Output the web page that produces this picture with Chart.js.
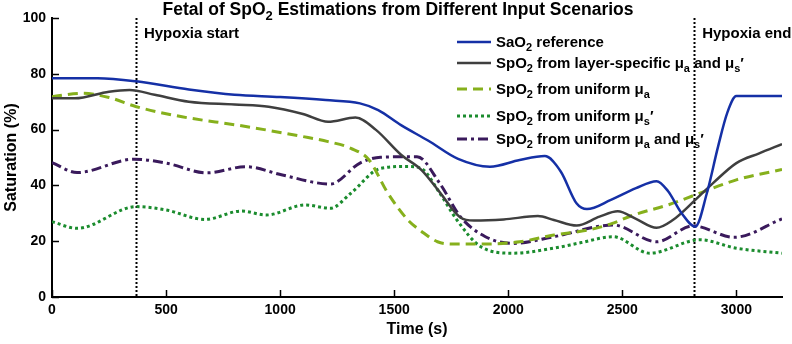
<!DOCTYPE html>
<html>
<head>
<meta charset="utf-8">
<script src="https://cdn.jsdelivr.net/npm/chart.js@4.4.1/dist/chart.umd.min.js"></script>
<style>
  body { margin: 0; background: #fff; }
  #wrap { width: 792px; height: 344px; }
</style>
</head>
<body>
<div id="wrap"><canvas id="spo2Chart" width="792" height="344"></canvas></div>
<script>
// SaO2 reference
const saoTime = [0, 200, 370, 600, 800, 1000, 1200, 1350, 1430, 1530, 1650, 1780, 1920, 2050, 2160, 2230, 2300, 2345, 2450, 2560, 2650, 2700, 2760, 2820, 2870, 2920, 2960, 3000, 3200];
const saoValues = [78.4, 78.4, 77.3, 74.4, 72.5, 71.7, 70.6, 69.4, 67.0, 61.6, 56.0, 49.5, 46.7, 49.1, 50.5, 45.0, 33.5, 31.5, 34.8, 39.0, 41.5, 38.0, 30.0, 25.2, 37.0, 54.0, 66.0, 72.0, 72.0];

// SpO2 from layer-specific mua and mus'
const layerTime = [0, 100, 250, 340, 450, 600, 800, 950, 1100, 1210, 1330, 1420, 1530, 1620, 1700, 1790, 1850, 1980, 2130, 2200, 2300, 2400, 2480, 2560, 2650, 2720, 2820, 2900, 3000, 3100, 3200];
const layerValues = [71.2, 71.2, 73.6, 74.2, 72.5, 70.0, 69.0, 68.2, 65.6, 62.8, 64.3, 59.9, 51.0, 45.5, 37.5, 28.5, 27.4, 27.8, 29.0, 27.6, 25.6, 28.8, 30.7, 28.0, 24.8, 27.5, 34.8, 41.0, 48.0, 51.5, 54.8];

// SpO2 from uniform mua
const muaTime = [0, 130, 250, 370, 570, 820, 1100, 1210, 1310, 1390, 1470, 1560, 1620, 1690, 1760, 1900, 2050, 2200, 2350, 2450, 2550, 2700, 2820, 3000, 3200];
const muaValues = [71.8, 73.0, 71.5, 68.2, 64.6, 61.5, 57.5, 55.7, 53.3, 49.1, 37.5, 27.6, 23.5, 19.8, 19.0, 19.0, 19.8, 22.2, 24.0, 26.2, 29.4, 33.0, 36.6, 42.0, 45.7];

// SpO2 from uniform mus'
const musTime = [0, 110, 370, 500, 670, 830, 940, 1110, 1220, 1310, 1440, 1560, 1620, 1700, 1775, 1880, 2020, 2200, 2320, 2460, 2620, 2840, 3000, 3200];
const musValues = [27.0, 24.6, 32.4, 31.2, 27.8, 30.8, 29.4, 33.0, 31.8, 37.2, 46.1, 46.8, 46.0, 37.2, 27.6, 18.0, 15.7, 17.5, 19.5, 21.6, 15.7, 20.5, 17.5, 15.7];

// SpO2 from uniform mua and mus'
const bothTime = [0, 110, 360, 500, 680, 850, 1010, 1220, 1350, 1440, 1600, 1700, 1790, 1900, 2020, 2200, 2460, 2650, 2810, 2990, 3200];
const bothValues = [48.2, 44.6, 49.4, 48.0, 44.5, 46.7, 43.7, 40.5, 48.0, 50.1, 50.3, 40.7, 28.8, 21.6, 19.2, 21.6, 25.8, 19.8, 25.5, 21.4, 28.0];

const seriesLabels = [
    'SaO2 reference',
    "SpO2 from layer-specific μa and μs'",
    'SpO2 from uniform μa',
    "SpO2 from uniform μs'",
    "SpO2 from uniform μa and μs'"
];
// label pieces, [text, isSubscript]
const legendParts = [
    [['SaO', 0], ['2', 1], [' reference', 0]],
    [['SpO', 0], ['2', 1], [' from layer-specific μ', 0], ['a', 1], [' and μ', 0], ['s', 1], ['′', 0]],
    [['SpO', 0], ['2', 1], [' from uniform μ', 0], ['a', 1]],
    [['SpO', 0], ['2', 1], [' from uniform μ', 0], ['s', 1], ['′', 0]],
    [['SpO', 0], ['2', 1], [' from uniform μ', 0], ['a', 1], [' and μ', 0], ['s', 1], ['′', 0]]
];
const titleParts = [['Fetal of SpO', 0], ['2', 1], [' Estimations from Different Input Scenarios', 0]];

const eventTimes = [368, 2815];
const eventLabels = ['Hypoxia start', 'Hypoxia end'];

const xTicks = [0, 500, 1000, 1500, 2000, 2500, 3000];
const yTicks = [0, 20, 40, 60, 80, 100];

const FONT = '"Liberation Sans", Arial, sans-serif';

function pts(ts, vs) {
    return ts.map((t, i) => ({ x: t, y: vs[i] }));
}

function drawRich(ctx, parts, x, y, size, align) {
    const subSize = Math.round(size * 0.72);
    let w = 0;
    parts.forEach(p => {
        ctx.font = 'bold ' + (p[1] ? subSize : size) + 'px ' + FONT;
        w += ctx.measureText(p[0]).width;
    });
    let cx = align === 'center' ? x - w / 2 : x;
    ctx.textBaseline = 'alphabetic';
    ctx.textAlign = 'left';
    parts.forEach(p => {
        ctx.font = 'bold ' + (p[1] ? subSize : size) + 'px ' + FONT;
        ctx.fillText(p[0], cx, p[1] ? y + size * 0.28 : y);
        cx += ctx.measureText(p[0]).width;
    });
}

const annotations = {
    id: 'annotations',
    beforeDatasetsDraw(chart) {
        const { ctx, chartArea, scales } = chart;
        ctx.save();
        ctx.strokeStyle = '#000';
        ctx.lineWidth = 2;
        ctx.setLineDash([2, 2]);
        eventTimes.forEach(t => {
            const px = Math.round(scales.x.getPixelForValue(t)) + 0.5;
            ctx.beginPath();
            ctx.moveTo(px, chartArea.top);
            ctx.lineTo(px, chartArea.bottom);
            ctx.stroke();
        });
        ctx.setLineDash([]);
        ctx.fillStyle = '#000';
        eventTimes.forEach((t, i) => {
            const px = scales.x.getPixelForValue(t);
            drawRich(ctx, [[eventLabels[i], 0]], px + 8, 38, 15, 'left');
        });
        // inward tick marks
        ctx.lineWidth = 1.5;
        xTicks.forEach(v => {
            const px = Math.round(scales.x.getPixelForValue(v)) + 0.5;
            ctx.beginPath();
            ctx.moveTo(px, chartArea.bottom);
            ctx.lineTo(px, chartArea.bottom - 7);
            ctx.stroke();
        });
        yTicks.forEach(v => {
            const py = Math.round(scales.y.getPixelForValue(v)) + 0.5;
            ctx.beginPath();
            ctx.moveTo(chartArea.left, py);
            ctx.lineTo(chartArea.left + 7, py);
            ctx.stroke();
        });
        ctx.restore();
    },
    afterDraw(chart) {
        const { ctx, data } = chart;
        ctx.save();
        ctx.fillStyle = '#000';
        drawRich(ctx, titleParts, 398, 15, 17.5, 'center');

        const rowY = [42, 63, 89, 116, 139];
        data.datasets.forEach((ds, i) => {
            const y = rowY[i];
            ctx.strokeStyle = ds.borderColor;
            ctx.lineWidth = ds.borderWidth;
            ctx.setLineDash(ds.borderDash || []);
            ctx.beginPath();
            ctx.moveTo(457, y);
            ctx.lineTo(491, y);
            ctx.stroke();
            ctx.setLineDash([]);
            ctx.fillStyle = '#000';
            drawRich(ctx, legendParts[i], 496, y + 5, 15, 'left');
        });
        ctx.restore();
    }
};

new Chart(document.getElementById('spo2Chart'), {
    type: 'line',
    data: {
        datasets: [
            { label: seriesLabels[0], data: pts(saoTime, saoValues), borderColor: '#1530a6', borderWidth: 2.5 },
            { label: seriesLabels[1], data: pts(layerTime, layerValues), borderColor: '#3f3f3f', borderWidth: 2.5 },
            { label: seriesLabels[2], data: pts(muaTime, muaValues), borderColor: '#86b01c', borderWidth: 3, borderDash: [10, 6] },
            { label: seriesLabels[3], data: pts(musTime, musValues), borderColor: '#1b8c2e', borderWidth: 3, borderDash: [3, 3] },
            { label: seriesLabels[4], data: pts(bothTime, bothValues), borderColor: '#3a1a5c', borderWidth: 3, borderDash: [10, 4, 3, 4] }
        ]
    },
    options: {
        responsive: false,
        animation: false,
        cubicInterpolationMode: 'monotone',
        elements: { point: { radius: 0 }, line: { fill: false, borderCapStyle: 'butt' } },
        layout: { padding: { top: 18, right: 10, left: 0, bottom: 0 } },
        plugins: { legend: { display: false }, title: { display: false }, tooltip: { enabled: false } },
        scales: {
            x: {
                type: 'linear',
                min: 0,
                max: 3200,
                afterFit: s => { s.height = 47; },
                afterBuildTicks: s => { s.ticks = xTicks.map(v => ({ value: v })); },
                border: { color: '#000', width: 2 },
                grid: { display: false, drawTicks: false },
                ticks: {
                    color: '#000',
                    padding: 5,
                    maxRotation: 0,
                    autoSkip: false,
                    callback: v => String(v),
                    font: { family: FONT, size: 14, weight: 'bold' }
                },
                title: {
                    display: true,
                    text: 'Time (s)',
                    color: '#000',
                    padding: { top: 0, bottom: 5 },
                    font: { family: FONT, size: 16, weight: 'bold' }
                }
            },
            y: {
                min: 0,
                max: 100,
                afterFit: s => { s.width = 52; },
                afterBuildTicks: s => { s.ticks = yTicks.map(v => ({ value: v })); },
                border: { color: '#000', width: 2 },
                grid: { display: false, drawTicks: false },
                ticks: {
                    color: '#000',
                    padding: 6,
                    callback: v => String(v),
                    font: { family: FONT, size: 14, weight: 'bold' }
                },
                title: {
                    display: true,
                    text: 'Saturation (%)',
                    color: '#000',
                    padding: { top: 2, bottom: 0 },
                    font: { family: FONT, size: 16, weight: 'bold' }
                }
            }
        }
    },
    plugins: [annotations]
});
</script>
</body>
</html>
